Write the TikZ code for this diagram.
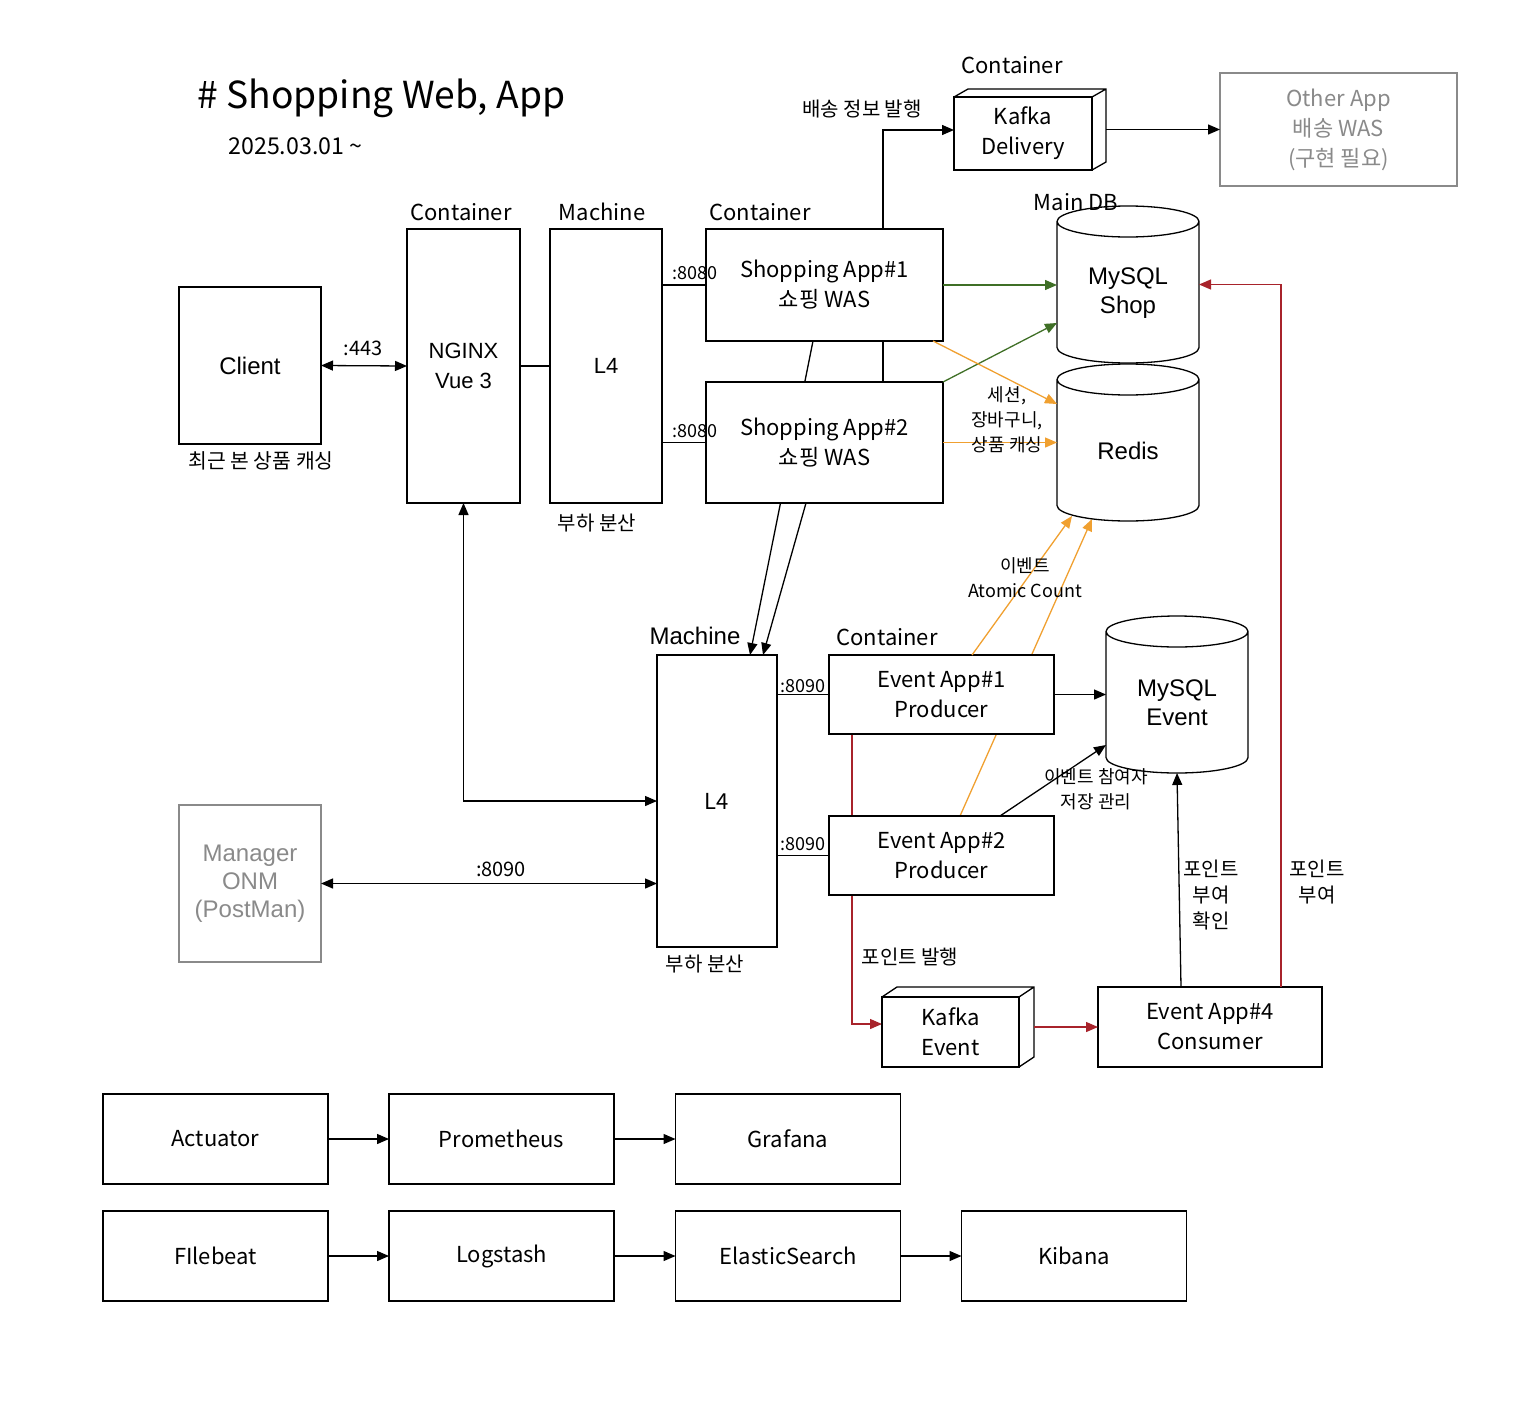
\documentclass[tikz,border=0pt]{standalone}
\usepackage{fontspec}
\setmainfont{Noto Sans CJK KR}
\newfontfamily\helv{Liberation Sans}
\usetikzlibrary{arrows.meta, backgrounds}

\definecolor{linkgreen}{HTML}{3F6F26}
\definecolor{linkorange}{HTML}{F0A030}
\definecolor{linkred}{HTML}{A8232B}
\definecolor{softgray}{HTML}{8A8A8A}

\tikzset{
  box/.style={draw, line width=0.65pt, fill=white, inner sep=0pt, outer sep=0pt, align=center, font=\fontsize{11}{15}\selectfont},
  greybox/.style={box, draw=softgray, text=softgray},
  helvbox/.style={box, font=\helv\fontsize{12}{14.5}\selectfont},
  dbbody/.style={inner sep=0pt, outer sep=0pt, minimum width=71pt, minimum height=78.5pt},
  dbtext/.style={inner sep=0pt, align=center, font=\helv\fontsize{12}{14.5}\selectfont},
  tag/.style={align=center, inner sep=0pt, font=\fontsize{11}{15}\selectfont},
  note/.style={align=center, inner sep=0pt, font=\fontsize{9}{12.5}\selectfont},
  plain/.style={line width=0.65pt},
  link/.style={line width=0.65pt, -{Triangle[length=6pt, width=5pt]}},
  bilink/.style={line width=0.65pt, {Triangle[length=6pt, width=5pt]}-{Triangle[length=6pt, width=5pt]}},
}

% database cylinder drawn round a named node
\newcommand{\dbcyl}[1]{%
  \draw[plain] ([yshift=-7.75pt]#1.north west) -- ([yshift=7.75pt]#1.south west)
    arc[start angle=180, end angle=360, x radius=35.5pt, y radius=7.75pt]
    -- ([yshift=-7.75pt]#1.north east)
    arc[start angle=0, end angle=180, x radius=35.5pt, y radius=7.75pt]
    arc[start angle=180, end angle=360, x radius=35.5pt, y radius=7.75pt];
}

\begin{document}
\begin{tikzpicture}[x=0.5pt, y=-0.5pt]
    \useasboundingbox (0,0) rectangle (1540,1402);

    \node[anchor=west, inner sep=0pt, font=\fontsize{18.6}{22}\selectfont] (title) at (197,98) {\# Shopping Web, App};
    \node[anchor=west, tag, font=\fontsize{11.6}{15}\selectfont] (since) at (228,146) {2025.03.01 \textasciitilde};

    % web side
    \node[helvbox, minimum width=71pt, minimum height=78.5pt] (client) at (250,365.5) {Client};
    \node[tag, font=\fontsize{10.2}{14}\selectfont] (clientnote) at (261,461) {최근 본 상품 캐싱};

    \node[helvbox, minimum width=56.5pt, minimum height=137pt, font=\helv\fontsize{11}{15}\selectfont] (nginx) at (463.5,366) {NGINX\\Vue 3};
    \node[tag] (nginxtag) at (461,212) {Container};

    \node[helvbox, minimum width=56pt, minimum height=137pt, font=\helv\fontsize{11}{15}\selectfont] (lbtop) at (606,366) {L4};
    \node[tag] (lbtoptag) at (602,212) {Machine};
    \node[tag, font=\fontsize{10}{14}\selectfont] (lbtopnote) at (597,523) {부하 분산};

    \node[box, minimum width=118.5pt, minimum height=56pt] (shop1) at (824.5,285) {Shopping App\#1\\쇼핑 WAS};
    \node[box, minimum width=118.5pt, minimum height=60.5pt] (shop2) at (824.5,442.5) {Shopping App\#2\\쇼핑 WAS};
    \node[tag] (shoptag) at (760,212) {Container};

    \node[box, minimum width=69pt, minimum height=36.5pt] (kdeliv) at (1023,133.5) {Kafka\\Delivery};
    \draw[plain] (kdeliv.north west) -- ++(14,-8) -- ++(138,0) -- ++(0,73) -- (kdeliv.south east) (kdeliv.north east) -- ++(14,-8);
    \node[tag] (kdelivtag) at (1012,65) {Container};
    \coordinate (kdright) at ([xshift=7pt]kdeliv.east);

    \node[greybox, minimum width=118.5pt, minimum height=56.5pt] (other) at (1338.5,129.5) {Other App\\배송 WAS\\(구현 필요)};

    \node[dbbody] (shopdb) at (1128,284.5) {};
    \dbcyl{shopdb}
    \node[dbtext] (shopdbtext) at ([yshift=-4.25pt]shopdb.center) {MySQL\\Shop};
    \node[tag] (shopdbtag) at (1076,202) {Main DB};

    \node[dbbody] (redis) at (1128,442.5) {};
    \dbcyl{redis}
    \node[dbtext] (redistext) at ([yshift=-4.25pt]redis.center) {Redis};

    % event side
    \node[box, minimum width=60pt, minimum height=146pt] (lbbot) at (717,801) {L4};
    \node[tag, font=\helv\fontsize{12}{15}\selectfont] (lbbottag) at (695,636) {Machine};
    \node[tag, font=\fontsize{10}{14}\selectfont] (lbbotnote) at (705,964) {부하 분산};

    \node[box, minimum width=112.5pt, minimum height=39.5pt] (ev1) at (941.5,694.5) {Event App\#1\\Producer};
    \node[box, minimum width=112.5pt, minimum height=39.5pt] (ev2) at (941.5,855.5) {Event App\#2\\Producer};
    \node[tag] (evtag) at (887,637) {Container};

    \node[dbbody] (eventdb) at (1177,694.5) {};
    \dbcyl{eventdb}
    \node[dbtext] (eventdbtext) at ([yshift=-4.25pt]eventdb.center) {MySQL\\Event};

    \node[greybox, minimum width=71pt, minimum height=78.5pt, font=\helv\fontsize{12}{14}\selectfont] (manager) at (250,883.5) {Manager\\ONM\\(PostMan)};

    \node[box, minimum width=68.5pt, minimum height=35pt] (kevent) at (950.5,1032) {Kafka\\Event};
    \draw[plain] (kevent.north west) -- ++(15,-10) -- ++(137,0) -- ++(0,70) -- (kevent.south east) (kevent.north east) -- ++(15,-10);
    \coordinate (keright) at ([xshift=7.5pt]kevent.east);

    \node[box, minimum width=112pt, minimum height=40pt] (ev4) at (1210,1027) {Event App\#4\\Consumer};

    % monitoring
    \node[box, minimum width=112.5pt, minimum height=45pt] (actuator) at (215.5,1139) {Actuator};
    \node[box, minimum width=112.5pt, minimum height=45pt] (prometheus) at (501.5,1139) {Prometheus};
    \node[box, minimum width=112.5pt, minimum height=45pt] (grafana) at (788,1139) {Grafana};
    \node[box, minimum width=112.5pt, minimum height=45pt] (filebeat) at (215.5,1256) {FIlebeat};
    \node[box, minimum width=112.5pt, minimum height=45pt] (logstash) at (501.5,1256) {Logstash};
    \node[box, minimum width=112.5pt, minimum height=45pt] (elastic) at (788,1256) {ElasticSearch};
    \node[box, minimum width=112.5pt, minimum height=45pt] (kibana) at (1074,1256) {Kibana};

    % lines running behind the boxes
    \begin{scope}[on background layer]
        % shop2 -> kafka delivery
        \draw[link] ([xshift=29.25pt]shop2.north) |- ([yshift=1.75pt]kdeliv.west);
        % shop1 -> lower L4
        \draw[link] ([xshift=-5.75pt]shop1.south) -- ([xshift=16.5pt]lbbot.north);
        % ev2 -> redis
        \draw[link, linkorange] ([xshift=9.25pt]ev2.north) -- ([xshift=-18pt,yshift=1pt]redis.south);
        % ev1 -> kafka event
        \draw[link, linkred] ([xshift=-44.75pt]ev1.south) |- ([yshift=4pt]kevent.west);
    \end{scope}

    % client <-> nginx
    \draw[bilink] (client.east) -- (nginx.west);
    \node[note, font=\fontsize{10}{12}\selectfont] (port443) at (363,348) {:443};

    % nginx -> L4
    \draw[plain] (nginx.east) -- (lbtop.west);

    % L4 -> shop1, shop2
    \draw[plain] (shop1.west -| lbtop.east) -- (shop1.west);
    \node[note] (port8080a) at (695,273) {:8080};
    \draw[plain] (shop2.west -| lbtop.east) -- (shop2.west);
    \node[note] (port8080b) at (695,431) {:8080};

    \node[note, font=\fontsize{10}{14}\selectfont] (delivnote) at (862,109) {배송 정보 발행};

    % kafka delivery -> other app
    \draw[link] (kdright |- other.west) -- (other.west);

    % shop -> mysql shop
    \draw[link, linkgreen] (shop1.east) -- (shop1.east -| shopdb.west);
    \draw[link, linkgreen] (shop2.north east) -- ([yshift=-19.25pt]shopdb.west);

    % shop -> redis
    \draw[link, linkorange] ([xshift=-5pt]shop1.south east) -- ([yshift=19.25pt]redis.west);
    \draw[link, linkorange] (shop2.east) -- (shop2.east -| redis.west);
    \node[note] (cachenote) at (1007,420) {세션,\\장바구니,\\상품 캐싱};

    % shop2 -> lower L4
    \draw[link] ([xshift=-9.25pt]shop2.south) -- ([xshift=23pt]lbbot.north);

    % nginx <-> lower L4
    \draw[bilink] (nginx.south) |- (lbbot.west);

    % manager <-> lower L4
    \draw[bilink] (manager.east) -- (manager.east -| lbbot.west);
    \node[tag, font=\fontsize{10}{14}\selectfont] (port8090) at (501,869) {:8090};

    % lower L4 -> ev1, ev2
    \draw[plain] (ev1.west -| lbbot.east) -- (ev1.west);
    \node[note] (port8090a) at (803,686) {:8090};
    \draw[plain] (ev2.west -| lbbot.east) -- (ev2.west);
    \node[note] (port8090b) at (803,844) {:8090};

    % ev1 -> redis
    \draw[link, linkorange] ([xshift=15.25pt]ev1.north) -- ([xshift=-28pt,yshift=2.5pt]redis.south);
    \node[note] (countnote) at (1025,578) {이벤트\\Atomic Count};

    % ev -> mysql event
    \draw[link] (ev1.east) -- (eventdb.west);
    \draw[link] ([xshift=29.25pt]ev2.north) -- ([yshift=-25.25pt]eventdb.west);
    \node[note] (joinnote) at (1096,789) {이벤트 참여자\\저장 관리};

    \node[note, font=\fontsize{10}{14}\selectfont] (pointnote) at (910,957) {포인트 발행};

    % kafka event -> ev4
    \draw[link, linkred] (keright |- ev4.west) -- (ev4.west);

    % ev4 -> mysql event
    \draw[link] ([xshift=-14.5pt]ev4.north) -- (eventdb.south);
    \node[note, font=\fontsize{10}{13}\selectfont] (checknote) at (1211,895) {포인트\\부여\\확인};

    % ev4 -> mysql shop
    \draw[link, linkred] ([xshift=35.5pt]ev4.north) |- (shopdb.east);
    \node[note, font=\fontsize{10}{13}\selectfont] (givenote) at (1317,882) {포인트\\부여};

    % monitoring chains
    \draw[link] (actuator.east) -- (prometheus.west);
    \draw[link] (prometheus.east) -- (grafana.west);
    \draw[link] (filebeat.east) -- (logstash.west);
    \draw[link] (logstash.east) -- (elastic.west);
    \draw[link] (elastic.east) -- (kibana.west);

\end{tikzpicture}
\end{document}
